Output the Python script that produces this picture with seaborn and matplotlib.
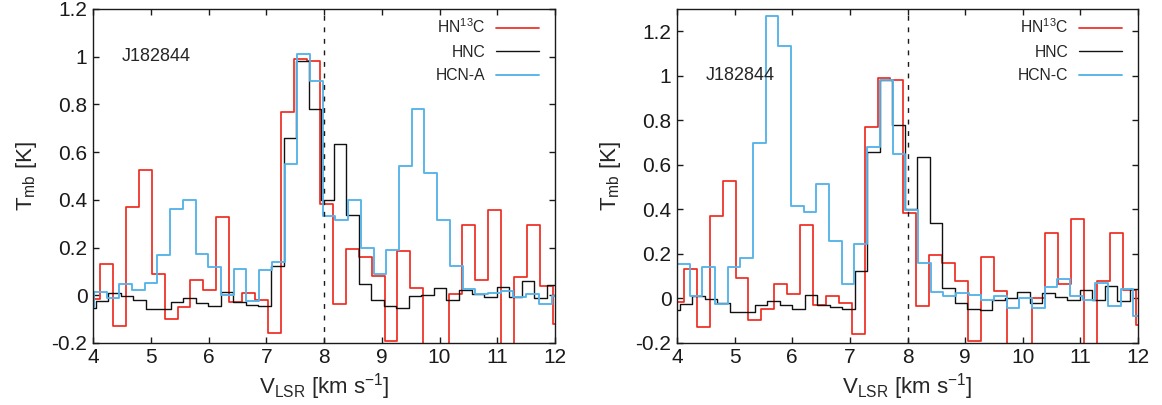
import numpy as np
import matplotlib
matplotlib.use("Agg")
import matplotlib.pyplot as plt
from matplotlib.ticker import FuncFormatter
import seaborn as sns

# ---- spectra of J182844 (channel centres in km/s, T_mb in K) ----
# HN13C, 0.224 km/s channels
hn13c_v0, hn13c_dv = 3.784, 0.224
hn13c_t = [-0.014, -0.014, 0.133, -0.13, 0.37, 0.527, 0.09, -0.098, -0.049, 0.066,
           0.021, 0.328, -0.028, 0.011, -0.021, -0.16, 0.77, 0.99, 0.98, 0.384,
           -0.035, 0.196, 0.16, 0.08, -0.19, 0.186, 0.032, -0.3, -0.3, 0.004,
           0.296, 0.066, 0.359, -0.3, 0.077, 0.296, 0.038, -0.12]

# HNC, 0.217 km/s channels
hnc_v0, hnc_dv = 3.936, 0.217
hnc_t = [-0.052, -0.025, 0.01, -0.004, -0.021, -0.059, -0.059, -0.03, -0.011, -0.031,
         -0.046, 0.014, -0.028, -0.04, -0.046, 0.123, 0.66, 0.982, 0.78, 0.40,
         0.636, 0.338, 0.047, -0.02, -0.047, -0.053, -0.005, 0.002, 0.03, -0.019,
         0.023, 0.007, -0.006, 0.036, -0.008, 0.058, -0.01, 0.042, 0.03]

# HCN hyperfine components, 0.2201 km/s channels
hcn_dv = 0.2201
hcn_a_v0 = 3.906
hcn_a_t = [-0.05, 0.014, -0.011, 0.049, 0.021, 0.053, 0.17, 0.363, 0.398, 0.175,
           0.119, 0.0, 0.112, -0.025, 0.108, 0.14, 0.552, 1.01, 0.90, 0.331,
           0.314, 0.40, 0.20, 0.088, 0.19, 0.54, 0.78, 0.514, 0.314, 0.123,
           0.025, 0.004, 0.01, 0.017, -0.007, 0.004, -0.038, -0.003]
hcn_c_v0 = 3.888
hcn_c_t = [0.156, 0.156, 0.01, 0.143, -0.027, 0.141, 0.183, 0.697, 1.27, 1.135,
           0.415, 0.389, 0.513, 0.258, 0.063, 0.243, 0.678, 0.983, 0.651, 0.396,
           0.16, 0.03, 0.01, 0.0225, 0.015, -0.0075, 0.01, -0.042, 0.0, -0.045,
           0.05, 0.086, 0.01, -0.005, 0.07, -0.032, 0.044, -0.08]

source = "J182844"
v_ref = 8.0
x_ticks = [4, 5, 6, 7, 8, 9, 10, 11, 12]
y_ticks = [-0.2, 0, 0.2, 0.4, 0.6, 0.8, 1.0, 1.2]


def channels(v0, dv, t):
    return v0 + dv * np.arange(len(t)), np.asarray(t)


RED = "#ee2b22"
BLACK = "#111111"
BLUE = "#56b4e9"

sns.set_theme(style="ticks")
plt.rcParams["font.family"] = ["Liberation Sans", "DejaVu Sans"]
plt.rcParams["mathtext.default"] = "regular"

fig = plt.figure(figsize=(11.62, 4.05), dpi=100)
ax1 = fig.add_axes([93 / 1162, 62 / 405, 462 / 1162, 334 / 405])
ax2 = fig.add_axes([677 / 1162, 62 / 405, 461 / 1162, 334 / 405])

panels = [
    (ax1, (hcn_a_v0, hcn_a_t), "HCN-A", (-0.2, 1.2)),
    (ax2, (hcn_c_v0, hcn_c_t), "HCN-C", (-0.2, 1.3)),
]

for ax, (hcn_v0, hcn_t), hcn_label, ylim in panels:
    series = [
        (channels(hn13c_v0, hn13c_dv, hn13c_t), RED, 1.25, "HN$^{13}$C"),
        (channels(hnc_v0, hnc_dv, hnc_t), BLACK, 1.0, "HNC"),
        (channels(hcn_v0, hcn_dv, hcn_t), BLUE, 1.35, hcn_label),
    ]
    handles = []
    for (v, t), col, lw, lab in series:
        sns.lineplot(x=v, y=t, ax=ax, color=col, lw=lw, drawstyle="steps-mid",
                     errorbar=None, legend=False)
        handles.append(ax.get_lines()[-1])

    ax.axvline(v_ref, color="k", lw=1.0, ls=(0, (3.5, 4.8)))

    ax.set_xlim(4, 12)
    ax.set_ylim(*ylim)
    ax.set_xticks(x_ticks)
    ax.set_yticks(y_ticks)
    fmt = FuncFormatter(lambda val, pos: f"{val:g}")
    ax.xaxis.set_major_formatter(fmt)
    ax.yaxis.set_major_formatter(fmt)
    ax.tick_params(direction="in", top=True, right=True, length=4.0, width=1.0,
                   labelsize=15, colors="k")
    ax.tick_params(axis="x", pad=3.5)
    ax.tick_params(axis="y", pad=4.0)
    for sp in ax.spines.values():
        sp.set_color("k")
        sp.set_linewidth(1.0)
        sp.set_visible(True)

    ax.set_xlabel("V$_{LSR}$ [km s$^{-1}$]", fontsize=16, labelpad=3)
    ax.set_ylabel("T$_{mb}$ [K]", fontsize=16, labelpad=9)
    ax.text(4.5, 1.0, source, fontsize=13, va="center", ha="left")

    ax.legend(handles, [s[3] for s in series], loc="upper right",
              bbox_to_anchor=(0.965, 0.975), frameon=False, markerfirst=False,
              fontsize=11.3, handlelength=2.7, handletextpad=0.7,
              labelspacing=0.55, borderpad=0, borderaxespad=0)

fig.savefig("out.png", dpi=100)
